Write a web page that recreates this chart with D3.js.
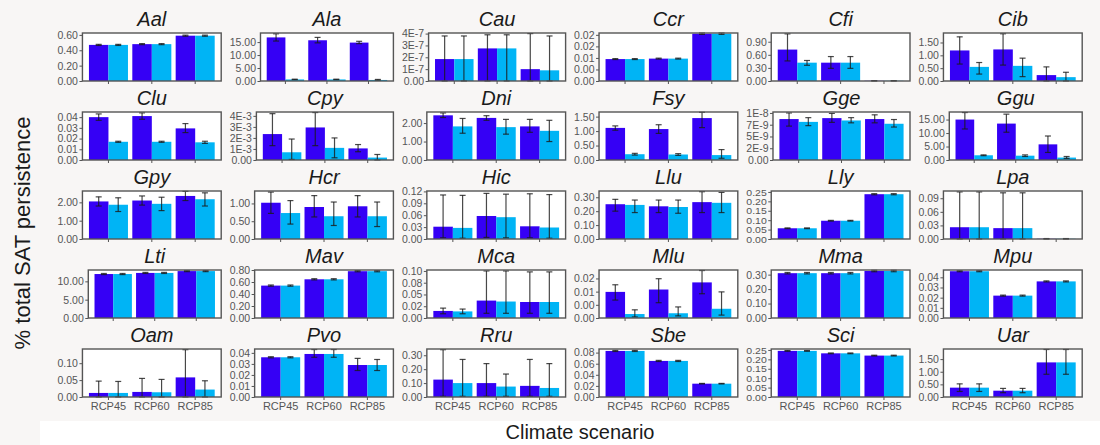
<!DOCTYPE html>
<html>
<head>
<meta charset="utf-8">
<script src="https://cdn.jsdelivr.net/npm/d3@7"></script>
<style>
  html, body { margin: 0; padding: 0; background: #f8f6f5; }
  svg { display: block; font-family: "Liberation Sans", Arial, sans-serif; }
</style>
</head>
<body>
<div id="chart"></div>
<script>
// species (one panel each) and scenarios
const species = ["Aal","Ala","Cau","Ccr","Cfi","Cib","Clu","Cpy","Dni","Fsy","Gge","Ggu","Gpy","Hcr","Hic",
                 "Llu","Lly","Lpa","Lti","Mav","Mca","Mlu","Mma","Mpu","Oam","Pvo","Rru","Sbe","Sci","Uar"];
const scenarios = ["RCP45", "RCP60", "RCP85"];

// dark blue series: mean, lower, upper
const darkMean = [[0.47,0.48,0.59],[16.8,15.7,14.8],[1.85e-7,2.75e-7,1.0e-7],[0.0095,0.0097,0.0205],[0.72,0.42,0.005],
  [1.19,1.23,0.23],[0.040,0.041,0.0295],[2.35e-3,2.95e-3,1.05e-3],[2.42,2.28,1.82],[1.11,1.07,1.45],
  [8.7e-9,8.9e-9,8.7e-9],[15.0,13.5,5.8],[2.05,2.1,2.35],[1.02,0.90,0.92],[0.031,0.058,0.032],
  [0.25,0.235,0.265],[0.057,0.097,0.238],[0.026,0.024,0.0005],[12.0,12.3,12.8],[0.54,0.645,0.78],
  [0.015,0.037,0.034],[0.0099,0.0108,0.0135],[0.31,0.31,0.325],[0.046,0.022,0.036],[0.012,0.015,0.058],
  [0.036,0.039,0.029],[0.125,0.10,0.08],[0.083,0.065,0.024],[0.245,0.232,0.22],[0.37,0.25,1.37]];
const darkLow = [[0.463,0.473,0.583],[15.4,14.7,14.4],[0,0,0],[0.0093,0.0095,0.0202],[0.46,0.29,0.002],
  [0.66,0.62,0],[0.037,0.038,0.0256],[1.3e-3,1.3e-3,0.75e-3],[2.3,2.15,1.5],[1.03,0.92,1.12],
  [7.2e-9,8.0e-9,7.9e-9],[11.5,10.3,2.8],[1.8,1.85,2.1],[0.72,0.62,0.62],[0.003,0.004,0.003],
  [0.2,0.19,0.19],[0.055,0.095,0.235],[0,0,0],[11.85,12.15,12.65],[0.53,0.635,0.77],
  [0.009,0.01,0.01],[0.0068,0.0058,0.0092],[0.305,0.305,0.32],[0.0455,0.0215,0.0355],[0,0,0],
  [0.0355,0.036,0.024],[0.005,0.005,0.005],[0.082,0.064,0.0235],[0.243,0.230,0.218],[0.22,0.17,0.9]];
const darkHigh = [[0.477,0.487,0.597],[18.2,16.8,15.3],[3.8e-7,3.9e-7,4.0e-7],[0.0097,0.0099,0.0208],[1.08,0.56,0.008],
  [1.72,1.84,0.55],[0.043,0.044,0.034],[4.2e-3,4.3e-3,1.4e-3],[2.55,2.4,2.2],[1.18,1.22,1.65],
  [1.0e-8,9.9e-9,9.6e-9],[17.6,17.0,8.9],[2.3,2.35,2.6],[1.32,1.22,1.22],[0.111,0.115,0.114],
  [0.285,0.28,0.34],[0.059,0.099,0.241],[0.104,0.102,0.001],[12.15,12.45,12.95],[0.55,0.655,0.79],
  [0.021,0.1,0.098],[0.0126,0.0149,0.018],[0.315,0.315,0.33],[0.0465,0.0225,0.0365],[0.047,0.055,0.14],
  [0.0365,0.043,0.035],[0.34,0.24,0.27],[0.084,0.066,0.0245],[0.247,0.234,0.222],[0.52,0.34,1.88]];

// light blue series: mean, lower, upper
const lightMean = [[0.47,0.48,0.59],[0.6,0.6,0.4],[1.85e-7,2.75e-7,0.9e-7],[0.0095,0.0097,0.0205],[0.42,0.42,0.005],
  [0.55,0.59,0.15],[0.017,0.017,0.0165],[0.7e-3,1.1e-3,0.22e-3],[1.82,1.78,1.58],[0.20,0.19,0.17],
  [8.1e-9,8.4e-9,7.7e-9],[1.75,1.6,0.9],[1.87,1.92,2.17],[0.73,0.64,0.64],[0.028,0.055,0.029],
  [0.245,0.23,0.26],[0.057,0.097,0.238],[0.026,0.024,0.0005],[12.0,12.3,12.8],[0.54,0.645,0.78],
  [0.014,0.035,0.034],[0.0015,0.0018,0.0035],[0.31,0.31,0.325],[0.046,0.022,0.036],[0.012,0.014,0.022],
  [0.036,0.039,0.029],[0.10,0.075,0.065],[0.083,0.065,0.024],[0.245,0.232,0.22],[0.37,0.25,1.37]];
const lightLow = [[0.463,0.473,0.583],[0.5,0.5,0.25],[0,0,0],[0.0093,0.0095,0.0202],[0.36,0.29,0.002],
  [0.27,0.17,0],[0.0165,0.0165,0.0155],[0.05e-3,0.2e-3,0],[1.45,1.4,1.0],[0.17,0.16,0.06],
  [7.3e-9,7.9e-9,7.0e-9],[1.6,1.3,0.6],[1.5,1.55,1.8],[0.42,0.38,0.35],[0.002,0.003,0.002],
  [0.19,0.185,0.19],[0.055,0.095,0.235],[0,0,0],[11.85,12.15,12.65],[0.53,0.635,0.77],
  [0.009,0.01,0.01],[0.0004,0.0008,0.0011],[0.305,0.305,0.32],[0.0455,0.0215,0.0355],[0,0,0],
  [0.0355,0.036,0.024],[0.005,0.005,0.005],[0.082,0.064,0.0235],[0.243,0.230,0.218],[0.22,0.17,0.9]];
const lightHigh = [[0.477,0.487,0.597],[0.7,0.7,0.6],[3.8e-7,3.9e-7,3.8e-7],[0.0097,0.0099,0.0208],[0.47,0.56,0.008],
  [0.72,0.89,0.34],[0.0175,0.0175,0.0175],[1.9e-3,2.0e-3,0.5e-3],[2.25,2.2,2.15],[0.23,0.22,0.36],
  [9.0e-9,9.0e-9,8.6e-9],[1.9,1.9,1.3],[2.25,2.28,2.52],[1.08,1.04,1.04],[0.11,0.113,0.112],
  [0.28,0.28,0.335],[0.059,0.099,0.241],[0.104,0.102,0.001],[12.15,12.45,12.95],[0.55,0.655,0.79],
  [0.019,0.1,0.098],[0.0031,0.0042,0.0099],[0.315,0.315,0.33],[0.0465,0.0225,0.0365],[0.046,0.052,0.048],
  [0.0365,0.043,0.034],[0.27,0.165,0.24],[0.084,0.066,0.0245],[0.247,0.234,0.222],[0.52,0.34,1.88]];

// y axis top of each panel
const yTop = [0.625,18.5,4.05e-7,0.0208,1.1,1.87,0.0448,4.35e-3,2.6,1.66,1.02e-8,17.8,2.62,1.35,0.121,
              0.345,0.255,0.106,13.1,0.80,0.102,0.0182,0.332,0.0472,0.142,0.0435,0.345,0.0865,0.255,1.9];

// y tick values and labels of each panel
const yTicks = [[0,.2,.4,.6],[0,5,10,15],[0,1e-7,2e-7,3e-7,4e-7],[0,.005,.01,.015,.02],[0,.3,.6,.9],
  [0,.5,1,1.5],[0,.01,.02,.03,.04],[0,1e-3,2e-3,3e-3,4e-3],[0,1,2],[0,.5,1,1.5],
  [0,2.5e-9,5e-9,7.5e-9,1e-8],[0,5,10,15],[0,1,2],[0,.5,1],[0,.03,.06,.09,.12],
  [0,.1,.2,.3],[0,.05,.1,.15,.2,.25],[0,.03,.06,.09],[0,5,10],[0,.2,.4,.6,.8],
  [0,.025,.05,.075,.1],[0,.005,.01,.015],[0,.1,.2,.3],[0,.01,.02,.03,.04],[0,.05,.1],
  [0,.01,.02,.03,.04],[0,.1,.2,.3],[0,.02,.04,.06,.08],[0,.05,.1,.15,.2,.25],[0,.5,1,1.5]];
const yTickLabels = [["0.00","0.20","0.40","0.60"],["0.00","5.00","10.00","15.00"],["0.00","1E-7","2E-7","3E-7","4E-7"],
  ["0.00","0.00","0.01","0.02","0.02"],["0.00","0.30","0.60","0.90"],["0.00","0.50","1.00","1.50"],
  ["0.00","0.01","0.02","0.03","0.04"],["0.00","1E-3","2E-3","3E-3","4E-3"],["0.00","1.00","2.00"],
  ["0.00","0.50","1.00","1.50"],["0.00","2E-9","5E-9","7E-9","1E-8"],["0.00","5.00","10.00","15.00"],
  ["0.00","1.00","2.00"],["0.00","0.50","1.00"],["0.00","0.03","0.06","0.09","0.12"],
  ["0.00","0.10","0.20","0.30"],["0.00","0.05","0.10","0.15","0.20","0.25"],["0.00","0.03","0.06","0.09"],
  ["0.00","5.00","10.00"],["0.00","0.20","0.40","0.60","0.80"],["0.00","0.02","0.05","0.08","0.10"],
  ["0.00","0.00","0.01","0.02"],["0.00","0.10","0.20","0.30"],["0.00","0.01","0.02","0.03","0.04"],
  ["0.00","0.05","0.10"],["0.00","0.01","0.02","0.03","0.04"],["0.00","0.10","0.20","0.30"],
  ["0.00","0.02","0.04","0.06","0.08"],["0.00","0.05","0.10","0.15","0.20","0.25"],["0.00","0.50","1.00","1.50"]];

const series = ["dark", "light"];
const colors = { dark: "#3500f5", light: "#00b4f5" };

// 布局
const W = 1100, H = 445;
const nCols = 6;
const cellLeft0 = 52, cellW = 172.2;
const rowTops = [33, 112, 191, 270, 349];
const boxH = 48;
const tickFont = 10.5;

const svg = d3.select("#chart").append("svg")
  .attr("width", W).attr("height", H);

svg.append("rect").attr("width", W).attr("height", H).attr("fill", "#f8f6f5");
svg.append("rect").attr("x", 40).attr("y", 421).attr("width", W - 40).attr("height", H - 421).attr("fill", "#ffffff");

// 测量刻度标签宽度
const measure = svg.append("text").style("font-size", tickFont + "px");
function textW(s) { measure.text(s); return measure.node().getComputedTextLength(); }

species.forEach((sp, k) => {
  const col = k % nCols, row = Math.floor(k / nCols);
  const cellL = cellLeft0 + col * cellW;
  const labW = d3.max(yTickLabels[k], textW);
  const x0 = cellL + labW + 10, x1 = cellL + cellW - 3;
  const top = rowTops[row], bottom = top + boxH;

  const x = d3.scaleBand().domain(scenarios).range([x0, x1]).paddingInner(0.1).paddingOuter(0.15);
  const xs = d3.scaleBand().domain(series).range([0, x.bandwidth()]);
  const y = d3.scaleLinear().domain([0, yTop[k]]).range([bottom, top]);

  const g = svg.append("g");

  g.append("rect").attr("x", x0).attr("y", top).attr("width", x1 - x0).attr("height", boxH)
    .attr("fill", "#ffffff");

  const rows = [];
  scenarios.forEach((sc, i) => {
    rows.push({ sc, s: "dark", v: darkMean[k][i], lo: darkLow[k][i], hi: darkHigh[k][i] });
    rows.push({ sc, s: "light", v: lightMean[k][i], lo: lightLow[k][i], hi: lightHigh[k][i] });
  });

  g.selectAll(".bar").data(rows).enter().append("rect")
    .attr("x", d => x(d.sc) + xs(d.s))
    .attr("y", d => y(d.v))
    .attr("width", xs.bandwidth())
    .attr("height", d => y(0) - y(d.v))
    .attr("fill", d => colors[d.s]);

  // 误差线
  const eb = g.selectAll(".eb").data(rows).enter().append("g")
    .attr("stroke", "#1a1a1a").attr("stroke-opacity", 0.8).attr("stroke-width", 1.2);
  const cx = d => x(d.sc) + xs(d.s) + xs.bandwidth() / 2;
  eb.append("line").attr("x1", cx).attr("x2", cx).attr("y1", d => y(d.lo)).attr("y2", d => y(d.hi));
  eb.append("line").attr("x1", d => cx(d) - 3).attr("x2", d => cx(d) + 3).attr("y1", d => y(d.lo)).attr("y2", d => y(d.lo));
  eb.append("line").attr("x1", d => cx(d) - 3).attr("x2", d => cx(d) + 3).attr("y1", d => y(d.hi)).attr("y2", d => y(d.hi));

  g.append("rect").attr("x", x0).attr("y", top).attr("width", x1 - x0).attr("height", boxH)
    .attr("fill", "none").attr("stroke", "#555").attr("stroke-width", 1.4);

  // Y轴 (标签太密时纵向压缩, 和原图一样)
  const spacing = Math.abs(y(yTicks[k][1]) - y(yTicks[k][0]));
  const squeeze = Math.min(1, spacing / 10);
  const ya = g.append("g").attr("transform", `translate(${x0},0)`)
    .call(d3.axisLeft(y).tickValues(yTicks[k]).tickSize(3).tickPadding(1.5)
      .tickFormat((d, i) => yTickLabels[k][i]));
  ya.select(".domain").remove();
  ya.selectAll("line").attr("stroke", "#555");
  ya.selectAll("text").attr("fill", "#555").style("font-size", tickFont + "px")
    .attr("transform", `scale(1,${squeeze})`);

  // X轴
  const xa = g.append("g").attr("transform", `translate(0,${bottom})`)
    .call(d3.axisBottom(x).tickSize(3).tickPadding(2.5).tickFormat(row === 4 ? (d => d) : ""));
  xa.select(".domain").remove();
  xa.selectAll("line").attr("stroke", "#555");
  xa.selectAll("text").attr("fill", "#555").style("font-size", "11px");

  // 标题
  g.append("text")
    .attr("x", (x0 + x1) / 2).attr("y", top - 7)
    .attr("text-anchor", "middle")
    .style("font-size", "20px").style("font-style", "italic").attr("fill", "#1a1a1a")
    .text(sp);
});
measure.remove();

svg.append("text")
  .attr("transform", "translate(30,233) rotate(-90)")
  .attr("text-anchor", "middle")
  .style("font-size", "22px").attr("fill", "#1a1a1a")
  .text("% total SAT persistence");

svg.append("text")
  .attr("x", 580).attr("y", 439)
  .attr("text-anchor", "middle")
  .style("font-size", "20px").attr("fill", "#1a1a1a")
  .text("Climate scenario");
</script>
</body>
</html>
